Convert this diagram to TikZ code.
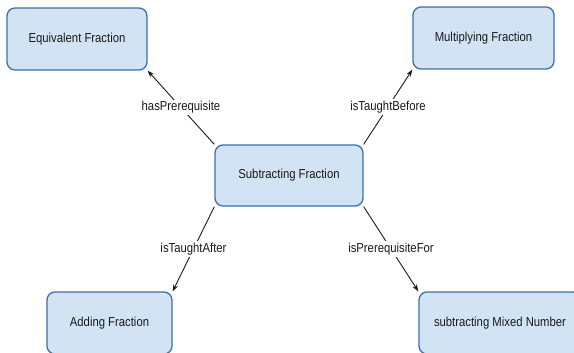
\documentclass[tikz,border=0pt]{standalone}
\usepackage{fontspec}
\setmainfont{Liberation Sans}[FakeStretch=0.87]
\usetikzlibrary{arrows.meta}
\definecolor{boxfill}{HTML}{D2E3F4}
\definecolor{boxline}{HTML}{3D6FA8}
\definecolor{linecol}{HTML}{1A1A1A}
\begin{document}
\begin{tikzpicture}[x=1pt,y=-1pt,
  conceptbox/.style={draw=boxline, fill=boxfill, line width=1.3pt, rounded corners=8pt,
    minimum height=62pt, inner sep=0pt, font=\fontsize{13}{15}\selectfont, text=black!90},
  conn/.style={draw=linecol, line width=0.9pt, -{Stealth[length=7pt,width=5pt]}},
  lbl/.style={fill=white, inner sep=1.5pt, font=\fontsize{13}{15}\selectfont, text=black!90}]
\useasboundingbox (0,0) rectangle (574,353);
\node[conceptbox, minimum width=140pt] (eq) at (77,39) {Equivalent Fraction};
\node[conceptbox, minimum width=141pt] (mul) at (483.5,38) {Multiplying Fraction};
\node[conceptbox, minimum width=148pt, minimum height=61pt] (sub) at (289,175.5) {Subtracting Fraction};
\node[conceptbox, minimum width=125pt] (add) at (109.5,323) {Adding Fraction};
\node[conceptbox, minimum width=162pt] (mix) at (500,323) {subtracting Mixed Number};
\draw[conn] (sub.north west) -- node[lbl] {hasPrerequisite} (eq.south east);
\draw[conn] (sub.north east) -- node[lbl] {isTaughtBefore} (mul.south west);
\draw[conn] (sub.south west) -- node[lbl] {isTaughtAfter} (add.north east);
\draw[conn] (sub.south east) -- node[lbl] {isPrerequisiteFor} (mix.north west);
\end{tikzpicture}
\end{document}
